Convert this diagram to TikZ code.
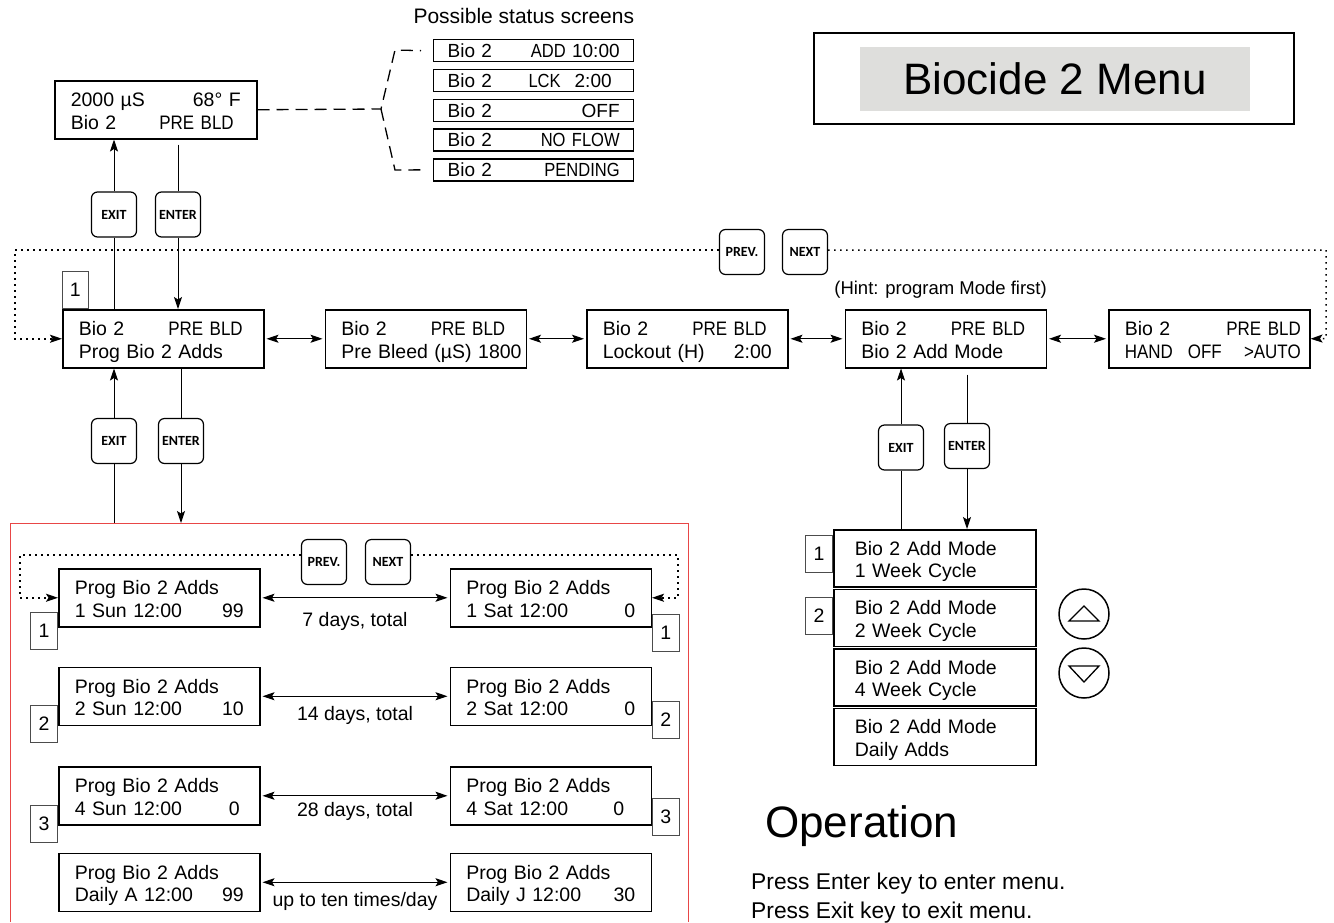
\documentclass[tikz,border=0pt]{standalone}
\usepackage{fontspec}
\setmainfont{Liberation Sans}
\newfontfamily\keyfont{Carlito}
\newfontfamily\narrowfont[FakeStretch=0.87]{Liberation Sans}
\usetikzlibrary{arrows.meta,positioning,calc}

\definecolor{titlegray}{RGB}{222,222,220}
\definecolor{framered}{RGB}{232,70,70}

\newcommand{\lcdfont}{\fontsize{19.5}{22.5}\selectfont}
\newcommand{\lcdsmall}{\narrowfont}
\newcommand{\lcdrow}[2]{\makebox[\linewidth][s]{#1\hfill#2}}
\newcommand{\pbld}{{\lcdsmall PRE BLD}\kern5pt}

\tikzset{
  lcd/.style    = {rectangle, draw, line width=1.5pt, minimum height=58pt,
                   text width=169pt, inner xsep=16pt, inner ysep=0pt,
                   align=left, font=\lcdfont,
                   execute at begin node={\rule{0pt}{21pt}},
                   execute at end node={\rule[-4.5pt]{0pt}{4.5pt}}},
  mlist/.style  = {lcd, minimum height=57pt, text width=160pt, inner xsep=21pt},
  sscr/.style   = {rectangle, draw, line width=1.3pt, minimum height=22pt,
                   text width=172pt, inner xsep=14pt, inner ysep=0pt,
                   font=\fontsize{19}{22}\selectfont},
  key/.style    = {rectangle, draw, rounded corners=6pt, line width=1.2pt,
                   minimum width=45pt, minimum height=45pt, inner sep=0pt,
                   font=\keyfont\fontsize{14}{15}\selectfont\bfseries},
  tag/.style    = {rectangle, draw=black!70, line width=0.8pt,
                   minimum width=27pt, minimum height=37pt, inner sep=0pt,
                   font=\lcdfont},
  lbl/.style    = {inner sep=0pt, font=\lcdfont},
  btn/.style    = {circle, draw, line width=1.5pt, minimum size=50pt},
  conn/.style   = {line width=1pt},
  arr/.style    = {-{Stealth[length=12pt,width=8pt,inset=2.5pt]}, line width=1pt},
  darr/.style   = {{Stealth[length=12pt,width=8pt,inset=2.5pt]}-{Stealth[length=12pt,width=8pt,inset=2.5pt]},
                   line width=1.1pt, shorten <=2pt, shorten >=2pt},
  dotarr/.style = {-{Stealth[length=12pt,width=8pt,inset=2.5pt]}, line width=1.5pt,
                   dash pattern=on 1.5pt off 4.5pt},
  dashln/.style = {line width=1.3pt, dash pattern=on 12pt off 7pt},
  frame/.style  = {draw=framered, line width=0.9pt},
}

\begin{document}
\begin{tikzpicture}[x=1pt, y=-1pt]
\useasboundingbox (0,0) rectangle (1334,922);

%% -- Title -------------------------------------------------------------
\node[draw, line width=1.2pt, minimum width=480pt, minimum height=91pt] (titlebox) at (1054,78.5) {};
\node[fill=titlegray, minimum width=390pt, minimum height=64pt,
      font=\fontsize{44}{50}\selectfont] (title) at (1055,79) {Biocide 2 Menu};

%% -- Status display and possible status screens -----------------------
\node[lcd, anchor=north west, text width=170pt] (stat) at (54,80)
  {\lcdrow{2000 µS}{68° F}\\\lcdrow{Bio 2}{\lcdsmall PRE BLD\kern7pt}};

\node[sscr, anchor=north west] (st1) at (433,39) {\lcdrow{Bio 2}{{\lcdsmall ADD} 10:00}};
\node[sscr, below=6.5pt of st1] (st2) {\lcdrow{Bio 2}{{\lcdsmall LCK}\hspace{14pt}2:00\kern8pt}};
\node[sscr, below=6.5pt of st2] (st3) {\lcdrow{Bio 2}{OFF}};
\node[sscr, below=6.5pt of st3] (st4) {\lcdrow{Bio 2}{\lcdsmall NO FLOW}};
\node[sscr, below=6.5pt of st4] (st5) {\lcdrow{Bio 2}{\lcdsmall PENDING}};
\node[anchor=base east, inner sep=0pt, font=\fontsize{21}{24}\selectfont]
  (sthead) at ([yshift=16pt]st1.north east) {Possible status screens};

\coordinate (brace)  at (381,109);
\coordinate (braceT) at (395,50);
\coordinate (braceB) at (395,170);
\draw[dashln] (stat.east) -- (brace) -- (braceT) -- ([xshift=-12pt]st1.west);
\draw[dashln] (brace) -- (braceB) -- ([xshift=-12pt]st5.west);

%% -- Keys ----------------------------------------------------------------
\node[key] (exitA)  at (114,214.5) {EXIT};
\node[key] (enterA) at (178,214.5) {ENTER};
\node[key] (prevA)  at (742,252) {PREV.};
\node[key] (nextA)  at (805,252) {NEXT};
\node[key] (exitB)  at (114,441) {EXIT};
\node[key] (enterB) at (181,441) {ENTER};
\node[key] (exitC)  at (901,447.5) {EXIT};
\node[key] (enterC) at (967,446) {ENTER};

%% -- Main menu row -------------------------------------------------------
\node[lcd, anchor=north west] (prog) at (62,309)
  {\lcdrow{Bio 2}{\pbld}\\\lcdrow{Prog Bio 2 Adds}{}};
\node[lcd, right=60pt of prog] (prebld)
  {\lcdrow{Bio 2}{\pbld}\\\lcdrow{Pre Bleed (µS) 1800}{}};
\node[lcd, right=59pt of prebld] (lockout)
  {\lcdrow{Bio 2}{\pbld}\\\lcdrow{Lockout (H)}{2:00}};
\node[lcd, right=56pt of lockout] (addmode)
  {\lcdrow{Bio 2}{\pbld}\\\lcdrow{Bio 2 Add Mode}{}};
\node[lcd, right=61pt of addmode] (hoa)
  {\lcdrow{Bio 2}{{\lcdsmall PRE BLD}\kern-7pt}\\\lcdrow{\lcdsmall HAND\hspace{15pt}OFF}{\lcdsmall >AUTO\kern-7pt}};

\node[tag, anchor=south west, minimum width=26pt] (tagA) at (prog.north west) {1};
\node[anchor=base east, inner sep=0pt, font=\fontsize{18.5}{22}\selectfont]
  (hint) at ([yshift=15pt]addmode.north east) {(Hint: program Mode first)};

\draw[darr] (prog.east) -- (prebld.west);
\draw[darr] (prebld.east) -- (lockout.west);
\draw[darr] (lockout.east) -- (addmode.west);
\draw[darr] (addmode.east) -- (hoa.west);

%% -- Exit / Enter connectors ---------------------------------------------
\draw[arr] (exitA.north) -- (exitA.north |- stat.south);
\draw[conn] (exitA.south) -- (exitA.south |- prog.north);
\draw[conn, shorten <=5pt] (enterA.north |- stat.south) -- (enterA.north);
\draw[arr] (enterA.south) -- (enterA.south |- prog.north);

\coordinate (frTL) at (10,523);
\coordinate (frTR) at (688,523);
\coordinate (frBL) at (10,922);
\coordinate (frBR) at (688,922);

\draw[arr] (exitB.north) -- (exitB.north |- prog.south);
\draw[conn] (exitB.south) -- (exitB.south |- frTL);
\draw[conn] (enterB.north |- prog.south) -- (enterB.north);
\draw[arr] (enterB.south) -- (enterB.south |- frTL);

%% -- Top PREV / NEXT loop ------------------------------------------------
\coordinate[left=47pt of prog.west] (loopTL);
\coordinate (loopTR) at (1326,338.5);
\draw[dotarr] ([yshift=2pt]prevA.west) -| (loopTL) -- (prog.west);
\draw[dotarr] ([yshift=2pt]nextA.east) -| (loopTR) -- (hoa.east);

%% -- Add mode choices ----------------------------------------------------
\node[mlist, anchor=north west] (wk1) at (833,529) {Bio 2 Add Mode\\1 Week Cycle};
\node[mlist, below=1pt of wk1] (wk2) {Bio 2 Add Mode\\2 Week Cycle};
\node[mlist, below=1pt of wk2] (wk4) {Bio 2 Add Mode\\4 Week Cycle};
\node[mlist, below=1pt of wk4] (daily) {Bio 2 Add Mode\\Daily Adds};
\node[tag, anchor=north east] (tagW1) at ([yshift=-6pt]wk1.north west) {1};
\node[tag, anchor=north east] (tagW2) at ([yshift=-8pt]wk2.north west) {2};

\draw[arr] (exitC.north) -- (exitC.north |- addmode.south);
\draw[conn] (exitC.south) -- (exitC.south |- wk1.north);
\draw[conn, shorten <=6pt] (enterC.north |- addmode.south) -- (enterC.north);
\draw[arr] (enterC.south) -- (enterC.south |- wk1.north);

\node[btn] (up)   at (1084,614) {};
\node[btn] (down) at (1084,673) {};
\draw[line width=1.3pt] ([shift={(-15,7)}]up.center) -- ([shift={(15,7)}]up.center)
  -- ([shift={(0,-8)}]up.center) -- cycle;
\draw[line width=1.3pt] ([shift={(-15,-7)}]down.center) -- ([shift={(15,-7)}]down.center)
  -- ([shift={(0,9)}]down.center) -- cycle;

%% -- Program adds frame --------------------------------------------------
\draw[frame] (frBL) -- (frTL) -- (frTR) -- (frBR);

\node[key] (prevB) at (324,562) {PREV.};
\node[key] (nextB) at (388,562) {NEXT};

\node[lcd, anchor=north west] (sun1) at (58,568)
  {\lcdrow{Prog Bio 2 Adds}{}\\\lcdrow{1 Sun 12:00}{99}};
\node[lcd, right=189pt of sun1] (sat1)
  {\lcdrow{Prog Bio 2 Adds}{}\\\lcdrow{1 Sat 12:00}{0}};
\node[lcd, below=39pt of sun1] (sun2)
  {\lcdrow{Prog Bio 2 Adds}{}\\\lcdrow{2 Sun 12:00}{10}};
\node[lcd, right=189pt of sun2] (sat2)
  {\lcdrow{Prog Bio 2 Adds}{}\\\lcdrow{2 Sat 12:00}{0}};
\node[lcd, below=40pt of sun2] (sun3)
  {\lcdrow{Prog Bio 2 Adds}{}\\\lcdrow{4 Sun 12:00}{0\kern4pt}};
\node[lcd, right=189pt of sun3] (sat3)
  {\lcdrow{Prog Bio 2 Adds}{}\\\lcdrow{4 Sat 12:00}{0\kern11pt}};
\node[lcd, below=27pt of sun3] (sun4)
  {\lcdrow{Prog Bio 2 Adds}{}\\\lcdrow{Daily A 12:00}{99}};
\node[lcd, right=189pt of sun4] (sat4)
  {\lcdrow{Prog Bio 2 Adds}{}\\\lcdrow{Daily J 12:00}{30}};

\node[tag, anchor=north east] (tagL1) at ([yshift=16pt]sun1.south west) {1};
\node[tag, anchor=north west] (tagR1) at ([yshift=14pt]sat1.south east) {1};
\node[tag, anchor=north east] (tagL2) at ([yshift=21pt]sun2.south west) {2};
\node[tag, anchor=north west] (tagR2) at ([yshift=25pt]sat2.south east) {2};
\node[tag, anchor=north east] (tagL3) at ([yshift=21pt]sun3.south west) {3};
\node[tag, anchor=north west] (tagR3) at ([yshift=28pt]sat3.south east) {3};

\draw[darr] (sun1.east) -- (sat1.west);
\draw[darr] (sun2.east) -- (sat2.west);
\draw[darr] (sun3.east) -- (sat3.west);
\draw[darr] (sun4.east) -- (sat4.west);

\node[lbl, anchor=base] (days7)  at ([yshift=-29pt]$(sun1.east)!0.5!(sat1.west)$) {7 days, total};
\node[lbl, anchor=base] (days14) at ([yshift=-24pt]$(sun2.east)!0.5!(sat2.west)$) {14 days, total};
\node[lbl, anchor=base] (days28) at ([yshift=-21pt]$(sun3.east)!0.5!(sat3.west)$) {28 days, total};
\node[lbl, anchor=base] (daily10) at ([yshift=-24pt]$(sun4.east)!0.5!(sat4.west)$) {up to ten times/day};

\coordinate[left=38pt of sun1.west] (loopBL);
\coordinate[right=26pt of sat1.east] (loopBR);
\draw[dotarr] ([yshift=7pt]prevB.west) -| (loopBL) -- (sun1.west);
\draw[dotarr] ([yshift=7pt]nextB.east) -| (loopBR) -- (sat1.east);

%% -- Operation notes -----------------------------------------------------
\node[anchor=base west, inner sep=0pt, font=\fontsize{44}{50}\selectfont]
  (ophead) at (765,837) {Operation};
\node[anchor=base west, inner sep=0pt, font=\fontsize{22.8}{29}\selectfont]
  (op1) at (751,889) {Press Enter key to enter menu.};
\node[anchor=base west, inner sep=0pt, font=\fontsize{22.8}{29}\selectfont]
  (op2) at ([yshift=-29pt]op1.base west) {Press Exit key to exit menu.};

\end{tikzpicture}
\end{document}
